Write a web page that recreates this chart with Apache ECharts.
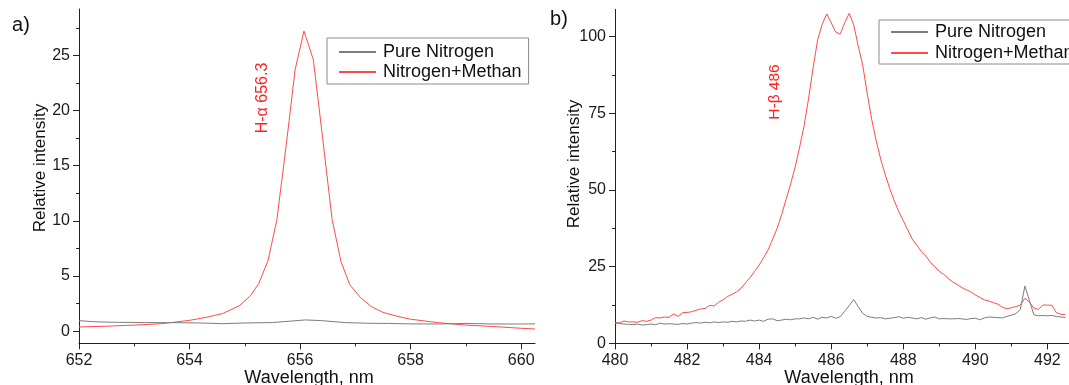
<!DOCTYPE html>
<html>
<head>
<meta charset="utf-8">
<script src="https://cdn.jsdelivr.net/npm/echarts@6/dist/echarts.min.js"></script>
<style>
  html, body { margin: 0; padding: 0; background: #ffffff; }
  #chart { width: 1069px; height: 385px; }
</style>
</head>
<body>
<div id="chart"></div>
<script>
// ---- a) H-alpha region (nm, relative intensity) ----
const wlA_mix = [652.0, 652.5, 653.0, 653.5, 654.0, 654.3, 654.6, 654.9, 655.1, 655.25, 655.42,
  655.58, 655.75, 655.91, 656.07, 656.24, 656.41, 656.58, 656.74, 656.9, 657.1, 657.3, 657.5,
  657.8, 658.0, 658.5, 659.0, 659.5, 660.0, 660.25];
const intA_mix = [0.38, 0.45, 0.55, 0.68, 0.98, 1.25, 1.6, 2.3, 3.2, 4.3, 6.4,
  10.1, 16.9, 23.7, 27.2, 24.6, 17.4, 10.1, 6.3, 4.2, 3.0, 2.2, 1.7,
  1.3, 1.08, 0.77, 0.55, 0.42, 0.26, 0.2];
const wlA_pure = [652.0, 652.3, 652.7, 653.2, 653.7, 654.2, 654.6, 655.0, 655.5, 655.8, 656.1,
  656.4, 656.8, 657.2, 657.6, 658.0, 658.5, 659.0, 659.5, 660.0, 660.25];
const intA_pure = [0.95, 0.85, 0.8, 0.78, 0.77, 0.74, 0.68, 0.74, 0.78, 0.9, 1.02,
  0.95, 0.78, 0.72, 0.7, 0.66, 0.65, 0.7, 0.65, 0.65, 0.66];

// ---- b) H-beta region ----
const wlB = [
  480, 480.125, 480.25, 480.375, 480.5, 480.625, 480.75, 480.875,
  481, 481.125, 481.25, 481.375, 481.5, 481.625, 481.75, 481.875,
  482, 482.125, 482.25, 482.375, 482.5, 482.625, 482.75, 482.875,
  483, 483.125, 483.25, 483.375, 483.5, 483.625, 483.75, 483.875,
  484, 484.125, 484.25, 484.375, 484.5, 484.625, 484.75, 484.875,
  485, 485.125, 485.25, 485.375, 485.5, 485.625, 485.75, 485.875,
  486, 486.125, 486.25, 486.375, 486.5, 486.625, 486.75, 486.875,
  487, 487.125, 487.25, 487.375, 487.5, 487.625, 487.75, 487.875,
  488, 488.125, 488.25, 488.375, 488.5, 488.625, 488.75, 488.875,
  489, 489.125, 489.25, 489.375, 489.5, 489.625, 489.75, 489.875,
  490, 490.125, 490.25, 490.375, 490.5, 490.625, 490.75, 490.875,
  491, 491.125, 491.25, 491.375, 491.5, 491.625, 491.75, 491.875,
  492, 492.125, 492.25, 492.375, 492.5];
const intB_mix = [
  6.7, 6.7, 7.3, 7.0, 7.0, 6.9, 7.4, 7.2,
  7.6, 8.4, 8.3, 8.6, 8.5, 9.6, 8.8, 10.0,
  10.1, 10.3, 10.8, 11.2, 11.4, 12.4, 12.2, 13.4,
  14.2, 15.3, 16.0, 16.8, 18.0, 19.8, 21.5, 23.5,
  25.5, 28, 30.5, 34, 37.5, 42, 47, 52,
  57.5, 64, 71, 80, 90, 99, 104, 107.4,
  104.5, 101.5, 100.8, 104.5, 107.6, 103.8, 97, 90.7,
  81.5, 73, 66, 60, 55, 50.5, 46.5, 43,
  40, 37, 34, 32, 30, 28.5, 26.5, 25,
  23.5, 22.5, 21.2, 20, 19.2, 18.2, 17.5, 16.8,
  15.8, 15, 14.2, 13.8, 13.3, 12.8, 11.8, 11.3,
  11.6, 12.0, 12.5, 14.7, 13.5, 11.5, 11.1, 12.5,
  12.5, 12.4, 10.0, 9.5, 9.3];
const intB_pure = [
  6.7, 6.5, 6.3, 6.2, 6.1, 6.3, 6.0, 6.1,
  6.3, 6.1, 6.6, 6.3, 6.4, 6.3, 6.2, 6.5,
  6.3, 6.6, 6.8, 6.6, 6.9, 6.7, 7.0, 6.8,
  7.0, 6.9, 7.2, 7.0, 7.3, 7.2, 7.6, 7.3,
  7.6, 7.2, 7.9, 8.0, 7.4, 7.6, 7.9, 7.7,
  8.0, 8.0, 8.3, 8.0, 8.5, 7.9, 8.5, 8.3,
  8.8, 8.2, 8.7, 10.5, 12.3, 14.3, 12.0, 9.8,
  8.8, 8.5, 8.3, 8.4, 8.0, 8.2, 8.4, 8.7,
  8.2, 8.5, 8.3, 8.0, 8.4, 7.9, 8.3, 8.6,
  8.0, 8.1, 8.0, 8.0, 8.1, 8.0, 7.8, 8.1,
  8.2, 7.7, 8.3, 8.6, 8.5, 8.4, 8.3, 8.8,
  9.2, 9.7, 11.0, 18.7, 14.0, 9.3, 9.0, 9.1,
  9.0, 9.1, 8.8, 8.6, 8.4];

// ---- tick values ----
const ticksA_x = [652, 654, 656, 658, 660];
const minorA_x = [653, 655, 657, 659];
const ticksA_y = [0, 5, 10, 15, 20, 25];
const minorA_y = [2.5, 7.5, 12.5, 17.5, 22.5, 27.5];
const ticksB_x = [480, 482, 484, 486, 488, 490, 492];
const minorB_x = [481, 483, 485, 487, 489, 491];
const ticksB_y = [0, 25, 50, 75, 100];
const minorB_y = [12.5, 37.5, 62.5, 87.5];

const seriesNames = ['Pure Nitrogen', 'Nitrogen+Methan'];
const annotations = ['H-α 656.3', 'H-β 486'];

const FONT = 'Liberation Sans, Arial, sans-serif';
const AXIS_COLOR = '#222';
const RED = '#ff4a4a';
const GRAY = '#7d7d7d';

const zip = (xs, ys) => xs.map((x, i) => [x, ys[i]]);

function majorAxis(grid, pos, min, max, ticks) {
  return {
    type: 'value', gridIndex: grid, position: pos, min: min, max: max,
    axisLine: { show: true, onZero: false, lineStyle: { color: AXIS_COLOR, width: 1 } },
    axisTick: { show: true, inside: false, length: 6, customValues: ticks,
      lineStyle: { color: AXIS_COLOR, width: 1 } },
    axisLabel: { show: true, customValues: ticks, margin: pos === 'bottom' ? 9 : 9,
      fontSize: 16, color: '#1a1a1a', fontFamily: FONT },
    splitLine: { show: false }
  };
}
function minorAxis(grid, pos, min, max, ticks) {
  return {
    type: 'value', gridIndex: grid, position: pos, min: min, max: max,
    axisLine: { show: false, onZero: false },
    axisTick: { show: true, inside: false, length: 3, customValues: ticks,
      lineStyle: { color: AXIS_COLOR, width: 1 } },
    axisLabel: { show: false },
    splitLine: { show: false }
  };
}

const A = { xmin: 652, xmax: 660.25, ymin: -1.1, ymax: 29.2 };
const B = { xmin: 480, xmax: 492.6, ymin: 0, ymax: 108.9 };

const chart = echarts.init(document.getElementById('chart'), null, { renderer: 'canvas' });

// Boxed legend: line keys only, the marker symbol is made transparent
function legendBox(left, top, pad, gap) {
  return {
    data: seriesNames, orient: 'vertical', left: left, top: top,
    itemWidth: 37, itemHeight: 13, itemGap: gap, padding: pad,
    itemStyle: { opacity: 0 },
    borderColor: '#8c8c8c', borderWidth: 1, backgroundColor: '#fff',
    selectedMode: false,
    textStyle: { fontSize: 18, color: '#111', fontFamily: FONT, padding: [0, 0, 0, 2] }
  };
}

function txt(x, y, text, size, color, rot) {
  return {
    type: 'text', x: x, y: y, rotation: rot || 0,
    style: { text: text, fontSize: size, fontFamily: FONT, fill: color,
      align: 'center', verticalAlign: 'middle' }
  };
}

chart.setOption({
  animation: false,
  backgroundColor: '#ffffff',
  grid: [
    { left: 79, top: 9, width: 456, height: 334.3 },
    { left: 615, top: 9.3, width: 458.6, height: 334.1 }
  ],
  xAxis: [
    majorAxis(0, 'bottom', A.xmin, A.xmax, ticksA_x),
    minorAxis(0, 'bottom', A.xmin, A.xmax, minorA_x),
    majorAxis(1, 'bottom', B.xmin, B.xmax, ticksB_x),
    minorAxis(1, 'bottom', B.xmin, B.xmax, minorB_x)
  ],
  yAxis: [
    majorAxis(0, 'left', A.ymin, A.ymax, ticksA_y),
    minorAxis(0, 'left', A.ymin, A.ymax, minorA_y),
    majorAxis(1, 'left', B.ymin, B.ymax, ticksB_y),
    minorAxis(1, 'left', B.ymin, B.ymax, minorB_y)
  ],
  legend: [
    legendBox(327, 38, [5, 7, 3, 11], 2),
    legendBox(879, 20, [3, 7, 2, 11], 3)
  ],
  series: [
    { name: seriesNames[1], type: 'line', xAxisIndex: 0, yAxisIndex: 0, symbol: 'none',
      data: zip(wlA_mix, intA_mix), lineStyle: { color: RED, width: 1 }, itemStyle: { color: RED } },
    { name: seriesNames[0], type: 'line', xAxisIndex: 0, yAxisIndex: 0, symbol: 'none',
      data: zip(wlA_pure, intA_pure), lineStyle: { color: GRAY, width: 1 }, itemStyle: { color: GRAY } },
    { name: seriesNames[1], type: 'line', xAxisIndex: 2, yAxisIndex: 2, symbol: 'none',
      data: zip(wlB, intB_mix), lineStyle: { color: RED, width: 1 }, itemStyle: { color: RED } },
    { name: seriesNames[0], type: 'line', xAxisIndex: 2, yAxisIndex: 2, symbol: 'none',
      data: zip(wlB, intB_pure), lineStyle: { color: GRAY, width: 1 }, itemStyle: { color: GRAY } }
  ],
  graphic: [
    txt(21, 25, 'a)', 20, '#111'),
    txt(559, 19, 'b)', 20, '#111'),
    txt(40, 168, 'Relative intensity', 17, '#111', Math.PI / 2),
    txt(574, 164, 'Relative intensity', 17, '#111', Math.PI / 2),
    txt(309, 378, 'Wavelength, nm', 18, '#111'),
    txt(849, 378, 'Wavelength, nm', 18, '#111'),
    txt(263, 98, annotations[0], 16, '#ff2020', Math.PI / 2),
    txt(775, 92, annotations[1], 15.5, '#ff2020', Math.PI / 2)
  ]
});
</script>
</body>
</html>
